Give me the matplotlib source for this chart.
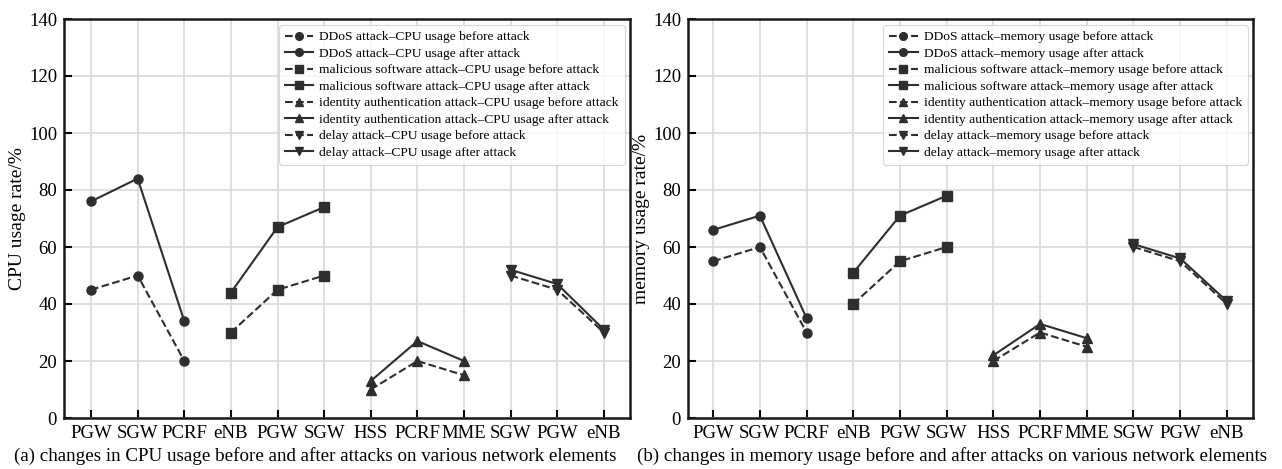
import matplotlib
matplotlib.use("Agg")
import matplotlib.pyplot as plt

plt.rcParams['font.family'] = ['Liberation Serif', 'DejaVu Serif']

# x categories (network elements)
elements = ['PGW', 'SGW', 'PCRF', 'eNB', 'PGW', 'SGW', 'HSS', 'PCRF', 'MME', 'SGW', 'PGW', 'eNB']

# attack groups: which x positions each attack uses
ddos_x = [0, 1, 2]
malware_x = [3, 4, 5]
identity_x = [6, 7, 8]
delay_x = [9, 10, 11]

# CPU usage (%)
cpu_ddos_before = [45, 50, 20]
cpu_ddos_after = [76, 84, 34]
cpu_malware_before = [30, 45, 50]
cpu_malware_after = [44, 67, 74]
cpu_identity_before = [10, 20, 15]
cpu_identity_after = [13, 27, 20]
cpu_delay_before = [50, 45, 30]
cpu_delay_after = [52, 47, 31]

# memory usage (%)
mem_ddos_before = [55, 60, 30]
mem_ddos_after = [66, 71, 35]
mem_malware_before = [40, 55, 60]
mem_malware_after = [51, 71, 78]
mem_identity_before = [20, 30, 25]
mem_identity_after = [22, 33, 28]
mem_delay_before = [60, 55, 40]
mem_delay_after = [61, 56, 41]

attack_names = ['DDoS attack', 'malicious software attack',
                'identity authentication attack', 'delay attack']
markers = ['o', 's', '^', 'v']
line_color = '#2e2e2e'


def draw_panel(ax, xs_list, before_list, after_list, kind, ylabel, xlim):
    for xs, before, after, name, mk in zip(xs_list, before_list, after_list, attack_names, markers):
        ax.plot(xs, before, linestyle='--', marker=mk, color=line_color, lw=1.5, ms=6.5,
                label=f'{name}\u2013{kind} usage before attack', zorder=3)
        ax.plot(xs, after, linestyle='-', marker=mk, color=line_color, lw=1.5, ms=6.5,
                label=f'{name}\u2013{kind} usage after attack', zorder=3)
    ax.set_ylim(0, 140)
    ax.set_xlim(*xlim)
    ax.set_yticks(range(0, 141, 20))
    ax.set_xticks(range(len(elements)))
    ax.set_xticklabels(elements)
    ax.tick_params(labelsize=13.5, length=6, width=1.5, direction='in', pad=5)
    ax.grid(True, color='#d9d9d9', lw=1.2, zorder=0)
    ax.set_axisbelow(True)
    for sp in ax.spines.values():
        sp.set_linewidth(1.8)
        sp.set_color('#1a1a1a')
    ax.set_ylabel(ylabel, fontsize=14, labelpad=2)
    leg = ax.legend(loc='upper right', fontsize=9.7, frameon=True, handlelength=2.1,
                    borderpad=0.45, labelspacing=0.3, handletextpad=0.45,
                    borderaxespad=0, bbox_to_anchor=(0.991, 0.985), markerscale=0.85)
    leg.get_frame().set_edgecolor('#cfcfcf')
    leg.get_frame().set_linewidth(0.8)


fig = plt.figure(figsize=(12.82, 4.69), dpi=100)
ax1 = fig.add_axes([64 / 1282, 1 - 418 / 469, (630 - 64) / 1282, (418 - 19) / 469])
ax2 = fig.add_axes([688 / 1282, 1 - 418 / 469, (1253 - 688) / 1282, (418 - 19) / 469])

xs_all = [ddos_x, malware_x, identity_x, delay_x]
draw_panel(ax1, xs_all,
           [cpu_ddos_before, cpu_malware_before, cpu_identity_before, cpu_delay_before],
           [cpu_ddos_after, cpu_malware_after, cpu_identity_after, cpu_delay_after],
           'CPU', 'CPU usage rate/%', (-0.58, 11.56))
draw_panel(ax2, xs_all,
           [mem_ddos_before, mem_malware_before, mem_identity_before, mem_delay_before],
           [mem_ddos_after, mem_malware_after, mem_identity_after, mem_delay_after],
           'memory', 'memory usage rate/%', (-0.54, 11.56))
ax2.yaxis.set_label_coords(-0.068, 0.5)

# sub-figure captions
fig.text(315 / 1282, 1 - 456 / 469,
         '(a) changes in CPU usage before and after attacks on various network elements',
         ha='center', va='center', fontsize=13.7)
fig.text(952 / 1282, 1 - 456 / 469,
         '(b) changes in memory usage before and after attacks on various network elements',
         ha='center', va='center', fontsize=13.7)

fig.savefig('out.png', dpi=100)
